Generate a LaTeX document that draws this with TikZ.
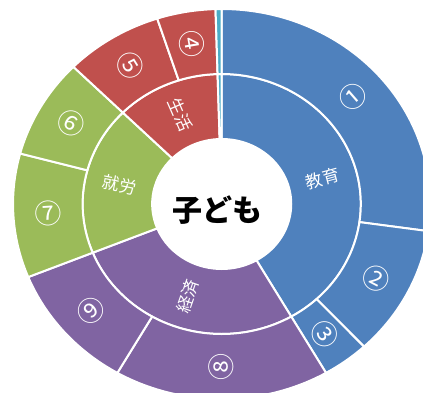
\documentclass[tikz,border=0pt]{standalone}
\usepackage{fontspec}
\newfontfamily\jp{Noto Sans CJK JP}
\definecolor{cblue}{HTML}{4F81BD}
\definecolor{cred}{HTML}{C0504D}
\definecolor{cgreen}{HTML}{9BBB59}
\definecolor{cpurple}{HTML}{8064A2}
\definecolor{cteal}{HTML}{4BACC6}
\tikzset{
  wedge/.style={draw=white, line width=2pt, line join=round},
  innerlab/.style={text=white, inner sep=0pt, font=\jp\fontsize{17}{17}\selectfont},
  numlab/.style={text=white, inner sep=0pt, font=\jp\fontsize{27}{27}\selectfont},
  centerlab/.style={text=black, inner sep=0pt, font=\jp\bfseries\fontsize{30}{30}\selectfont}
}
\newcommand{\ringsec}[5]{%
  \filldraw[wedge, fill=#1] (#2:#4pt) arc[start angle=#2, end angle=#3, radius=#4pt]
    -- (#3:#5pt) arc[start angle=#3, end angle=#2, radius=#5pt] -- cycle;}
\begin{document}
\begin{tikzpicture}
\useasboundingbox (-221.7pt,-188pt) rectangle (201.3pt,204pt);
\clip (-221.7pt,-188pt) rectangle (201.3pt,204pt);
\begin{scope}[xscale=1.07]
  % inner ring
  \ringsec{cblue}{90}{-60}{65}{130}
  \ringsec{cpurple}{-60}{-158}{65}{130}
  \ringsec{cgreen}{202}{135.3}{65}{130}
  \ringsec{cred}{135.3}{91.7}{65}{130}
  \ringsec{cteal}{91.7}{90}{65}{130}
  % outer ring
  \ringsec{cblue}{90}{-8}{130}{195}
  \ringsec{cblue}{-8}{-47}{130}{195}
  \ringsec{cblue}{-47}{-60}{130}{195}
  \ringsec{cpurple}{-60}{-120}{130}{195}
  \ringsec{cpurple}{-120}{-158}{130}{195}
  \ringsec{cgreen}{202}{165}{130}{195}
  \ringsec{cgreen}{165}{135.3}{130}{195}
  \ringsec{cred}{135.3}{108}{130}{195}
  \ringsec{cred}{108}{91.7}{130}{195}
  \ringsec{cteal}{91.7}{90}{130}{195}
  % inner labels
  \node[innerlab, rotate=15] (kyoiku) at (15:97.5pt) {教育};
  \node[innerlab, rotate=71] (keizai) at (-109:97.5pt) {経済};
  \node[innerlab, rotate=-11.35] (shuro) at (168.65:97.5pt) {就労};
  \node[innerlab, rotate=-66.5] (seikatsu) at (113.5:97.5pt) {生活};
  % outer labels
  \node[numlab, rotate=41] (n1) at (41:162.5pt) {①};
  \node[numlab, rotate=-27.5] (n2) at (-27.5:162.5pt) {②};
  \node[numlab, rotate=-53.5] (n3) at (-53.5:162.5pt) {③};
  \node[numlab, rotate=-80.15] (n4) at (99.85:162.5pt) {④};
  \node[numlab, rotate=-58.35] (n5) at (121.65:162.5pt) {⑤};
  \node[numlab, rotate=-30] (n6) at (150.15:162.5pt) {⑥};
  \node[numlab, rotate=3.5] (n7) at (183.5:162.5pt) {⑦};
  \node[numlab, rotate=90] (n8) at (-90:162.5pt) {⑧};
  \node[numlab, rotate=41] (n9) at (-139:162.5pt) {⑨};
\end{scope}
\node[centerlab] (kodomo) at (-4pt,-6pt) {子ども};
\end{tikzpicture}
\end{document}
